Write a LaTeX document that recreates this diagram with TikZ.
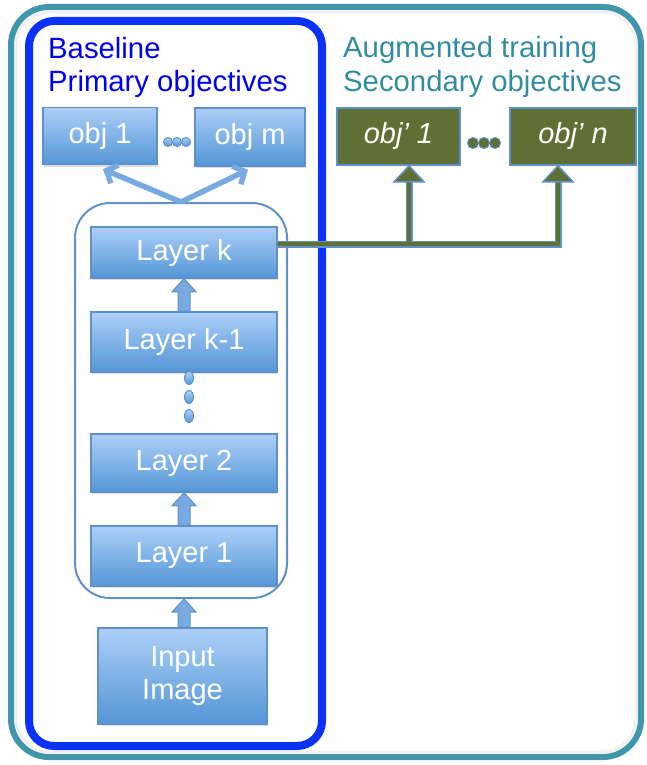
\documentclass[tikz,border=0pt]{standalone}
\usepackage{fontspec}
\setmainfont{Liberation Sans}
\usetikzlibrary{calc,arrows.meta,shadows}
\definecolor{teal1}{RGB}{64,150,170}
\definecolor{bblue}{RGB}{10,50,250}
\definecolor{bborder}{RGB}{95,145,200}
\definecolor{btop}{RGB}{172,207,247}
\definecolor{bbot}{RGB}{85,150,215}
\definecolor{olive1}{RGB}{95,112,52}
\definecolor{headteal}{RGB}{50,140,160}
\definecolor{headblue}{RGB}{0,0,240}
\definecolor{arrfill}{RGB}{120,170,225}
\newcommand{\blockarrow}[2]{%
  \path[blockarr] ($(#1)+(-6,0)$) -- ($(#2)+(-6,13)$) -- ($(#2)+(-12,13)$) -- (#2)
    -- ($(#2)+(12,13)$) -- ($(#2)+(6,13)$) -- ($(#1)+(6,0)$) -- cycle;}
\begin{document}
\begin{tikzpicture}[x=1pt,y=-1pt,
  box/.style={draw=bborder, line width=1.5pt, top color=btop, bottom color=bbot, text=white,
    font=\fontsize{29}{33}\selectfont, inner sep=0pt, align=center,
    drop shadow={shadow xshift=1pt, shadow yshift=-2pt, opacity=0.25}},
  obox/.style={draw=bborder, line width=1.5pt, fill=olive1, text=white,
    font=\fontsize{29}{33}\selectfont\itshape, inner sep=0pt, align=center},
  head/.style={font=\fontsize{29.3}{33}\selectfont, anchor=base west, inner sep=0pt},
  container/.style={draw=bborder, line width=2pt, rounded corners=35pt, inner sep=0pt},
  objarrow/.style={draw=arrfill, line width=5.5pt, -{Straight Barb[length=9pt,width=20pt]}},
  bdot/.style={draw=bborder, line width=1pt, top color=btop, bottom color=bbot},
  odot/.style={draw=bborder, line width=1pt, fill=olive1},
  blockarr/.style={fill=arrfill, draw=bborder, line width=1pt}
]
\useasboundingbox (0,0) rectangle (647,765);
% outer frame
\draw[gray!12, line width=3pt, rounded corners=34pt] (16,12) rectangle (636,752);
\draw[teal1, line width=6pt, rounded corners=38pt] (11,7) rectangle (641,757);
% baseline frame
\draw[bblue, line width=8pt, rounded corners=25pt] (29,21) rectangle (322,746);

% headings
\node[head, text=headblue] (h1) at (48,59) {Baseline};
\node[head, text=headblue] (h2) at (48,92) {Primary objectives};
\node[head, text=headteal] (h3) at (343,58) {Augmented training};
\node[head, text=headteal] (h4) at (343,92) {Secondary objectives};

% container
\node[container, minimum width=212pt, minimum height=395pt] (cont) at (181,400.5) {};

% primary objectives
\node[box, minimum width=114pt, minimum height=57pt] (o1) at (100,136) {obj 1};
\node[box, minimum width=110pt, minimum height=58pt] (om) at (250,137) {obj m};
\foreach \xx in {168,177,186} \path[bdot] (\xx,142) circle (4.5pt);

% secondary objectives
\node[obox, minimum width=123pt, minimum height=57pt] (o1p) at (398.5,136.5) {obj’ 1};
\node[obox, minimum width=126pt, minimum height=57pt] (onp) at (573,136.5) {obj’ n};
\foreach \xx in {473,484,495} \path[odot] (\xx,143) circle (5.5pt);

% layers
\node[box, minimum width=186pt, minimum height=51pt] (lk) at (184,252.5) {Layer k};
\node[box, minimum width=186pt, minimum height=60pt] (lk1) at (184,342) {Layer k-1};
\node[box, minimum width=186pt, minimum height=58pt] (l2) at (184,463) {Layer 2};
\node[box, minimum width=186pt, minimum height=60pt] (l1) at (184,556) {Layer 1};
\node[box, minimum width=169pt, minimum height=96pt] (inp) at (182.5,676) {Input\\Image};

% vertical dots
\foreach \yy in {378,397,416} \path[bdot] (189,\yy) ellipse (4.5pt and 6.5pt);

% block arrows (bottom -> top)
\blockarrow{lk1.north}{lk.south}
\blockarrow{l1.north}{l2.south}
\coordinate (cb) at (inp.north -| l1.south);
\coordinate (ct) at (cont.south -| l1.south);
\blockarrow{cb}{ct}

% primary objective arrows
\draw[objarrow] (cont.north) -- ($(o1.south)+(3,4)$);
\draw[objarrow] (cont.north) -- ($(om.south)+(-2,3)$);

% secondary connectors
\coordinate (st) at ($(lk.east)+(0,-8.5)$);
\coordinate (t1) at ($(o1p.south)+(10.5,0)$);
\coordinate (tn) at ($(onp.south)+(-15,0)$);
\coordinate (j1) at (st -| t1);
\coordinate (j2) at (st -| tn);
\draw[bborder, line width=7pt] (st) -- (j2) -- ($(tn)+(0,15)$);
\draw[bborder, line width=7pt] (j1) -- ($(t1)+(0,15)$);
\draw[olive1, line width=4pt] (st) -- (j2) -- ($(tn)+(0,15.5)$);
\draw[olive1, line width=4pt] (j1) -- ($(t1)+(0,15.5)$);
\filldraw[fill=olive1, draw=bborder, line width=1.5pt, line join=miter]
  ($(t1)+(-15,16)$) -- (t1) -- ($(t1)+(15,16)$) -- cycle;
\filldraw[fill=olive1, draw=bborder, line width=1.5pt, line join=miter]
  ($(tn)+(-15,16)$) -- (tn) -- ($(tn)+(15,16)$) -- cycle;
\end{tikzpicture}
\end{document}
